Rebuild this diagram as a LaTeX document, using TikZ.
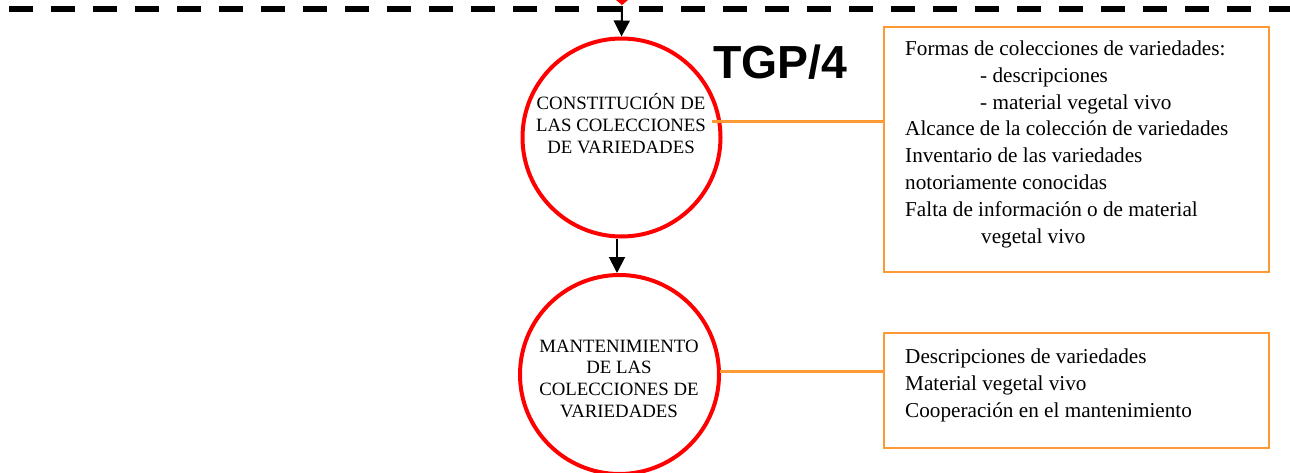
\documentclass[tikz,border=0pt]{standalone}
\usepackage{fontspec}
\setmainfont{Liberation Serif}
\newfontfamily\arialfont{Liberation Sans}
\usetikzlibrary{arrows.meta}
\definecolor{boxorange}{RGB}{255,153,51}
\begin{document}
\begin{tikzpicture}[x=1pt,y=-1pt,
  redcircle/.style={circle,draw=red,line width=4pt,minimum size=#1,inner sep=0pt},
  circtext/.style={align=center,inner sep=0pt,font=\fontsize{18.8}{21.7}\selectfont},
  infobox/.style={draw=boxorange,line width=2pt,minimum width=385pt,minimum height=#1,inner sep=0pt},
  boxtext/.style={align=left,anchor=north west,inner sep=0pt,font=\fontsize{21.2}{26.8}\selectfont},
  orangeline/.style={draw=boxorange,line width=3pt},
  downarrow/.style={draw=black,line width=2pt,-{Triangle[length=16pt,width=16pt]}},
  dashline/.style={draw=black,line width=6pt,dash pattern=on 24pt off 18pt}]
\useasboundingbox (0,0) rectangle (1290,473);
% dashed border line
\coordinate (dl) at (9,9);
\coordinate (dr) at (1290,9);
\draw[dashline] (dl) -- (dr);
% red tip of the shape above
\fill[red] (616,0) -- (628,0) -- (622,5) -- cycle;
\coordinate (topstart) at (622,6);
% circles
\node[redcircle=198pt] (c1) at (621.5,137.5) {};
\node[redcircle=199pt] (c2) at (619.5,374.5) {};
\node[circtext] (t1) at (621,123.5) {CONSTITUCIÓN DE\\LAS COLECCIONES\\DE VARIEDADES};
\node[circtext] (t2) at (619,378.5) {MANTENIMIENTO\\DE LAS\\COLECCIONES DE\\VARIEDADES};
% title
\node[anchor=base west,inner sep=0pt,font=\arialfont\bfseries\fontsize{46.4}{50}\selectfont] (title) at (713,79) {TGP/4};
% boxes
\node[infobox=245pt] (box1) at (1076.5,149.5) {};
\node[infobox=115pt] (box2) at (1076.5,390.5) {};
\node[boxtext] (b1text) at (905,40.5) {Formas de colecciones de variedades:\\
\hspace*{75pt}- descripciones\\
\hspace*{75pt}- material vegetal vivo\\
Alcance de la colección de variedades\\
Inventario de las variedades\\
notoriamente conocidas\\
Falta de información o de material\\
\hspace*{76pt}vegetal vivo};
\node[boxtext] (b2text) at (905,348.5) {Descripciones de variedades\\
Material vegetal vivo\\
Cooperación en el mantenimiento};
% connectors
\coordinate (p1) at (712,122);
\coordinate (p2) at (720,371);
\draw[orangeline] (p1) -- (p1 -| box1.west);
\draw[orangeline] (p2) -- (p2 -| box2.west);
\draw[downarrow] (topstart) -- (c1.north);
\draw[downarrow] ([xshift=-4.5pt]c1.south) -- ([xshift=-2.5pt]c2.north);
\end{tikzpicture}
\end{document}
